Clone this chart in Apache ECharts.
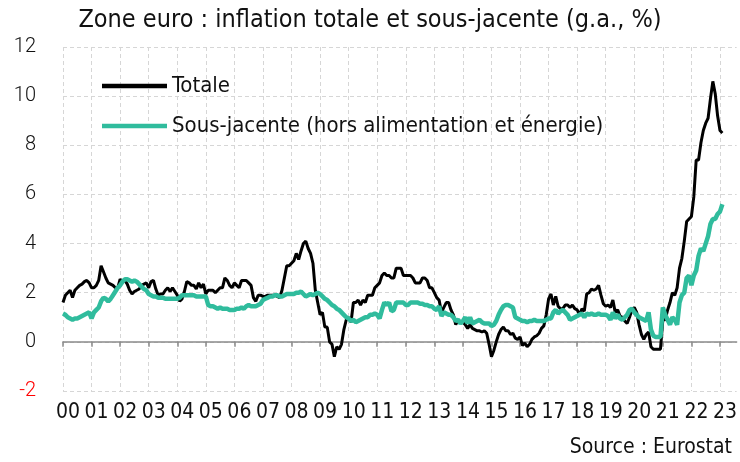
<!DOCTYPE html>
<html>
<head>
<meta charset="utf-8">
<script src="https://cdn.jsdelivr.net/npm/echarts@6/dist/echarts.min.js"></script>
<style>
  html, body { margin: 0; padding: 0; background: #fff; }
  #chart { width: 740px; height: 462px; }
</style>
</head>
<body>
<div id="chart"></div>
<script>
// years shown on the axis (monthly axis runs Jan 2000 -> Aug 2023)
const yearLabels = ['00', '01', '02', '03', '04', '05', '06', '07', '08', '09', '10', '11',
  '12', '13', '14', '15', '16', '17', '18', '19', '20', '21', '22', '23']
const monthsInLastYear = 8

// inflation totale, g.a. %, Jan 2000 -> Feb 2023
const totale = [
  1.6, 1.9, 2.0, 2.1, 1.8, 2.1, 2.2, 2.3, 2.35, 2.45, 2.5, 2.4, // 2000
  2.2, 2.2, 2.3, 2.5, 3.1, 2.85, 2.6, 2.4, 2.35, 2.3, 2.2, 2.2, // 2001
  2.55, 2.45, 2.5, 2.35, 2.1, 1.95, 2.05, 2.1, 2.15, 2.3, 2.35, 2.4, // 2002
  2.2, 2.45, 2.5, 2.15, 1.9, 1.95, 1.95, 2.1, 2.2, 2.05, 2.2, 2.05, // 2003
  1.9, 1.65, 1.75, 2.05, 2.45, 2.4, 2.3, 2.3, 2.15, 2.4, 2.2, 2.35, // 2004
  1.95, 2.1, 2.1, 2.1, 2.0, 2.1, 2.2, 2.2, 2.6, 2.5, 2.3, 2.2, // 2005
  2.4, 2.3, 2.2, 2.5, 2.5, 2.5, 2.4, 2.3, 1.8, 1.65, 1.9, 1.9, // 2006
  1.85, 1.85, 1.9, 1.9, 1.9, 1.9, 1.85, 1.8, 2.1, 2.6, 3.1, 3.1, // 2007
  3.2, 3.3, 3.6, 3.35, 3.7, 4.0, 4.1, 3.8, 3.6, 3.2, 2.1, 1.6, // 2008
  1.1, 1.2, 0.6, 0.6, 0.0, -0.1, -0.6, -0.2, -0.3, -0.1, 0.5, 0.9, // 2009
  1.0, 0.8, 1.6, 1.6, 1.7, 1.5, 1.7, 1.6, 1.9, 1.9, 1.9, 2.2, // 2010
  2.3, 2.4, 2.7, 2.8, 2.7, 2.7, 2.6, 2.6, 3.0, 3.0, 3.0, 2.7, // 2011
  2.7, 2.7, 2.7, 2.6, 2.4, 2.4, 2.4, 2.6, 2.6, 2.5, 2.2, 2.2, // 2012
  2.0, 1.8, 1.7, 1.2, 1.4, 1.6, 1.6, 1.3, 1.1, 0.7, 0.9, 0.8, // 2013
  0.8, 0.7, 0.55, 0.7, 0.55, 0.5, 0.45, 0.45, 0.4, 0.45, 0.35, -0.1, // 2014
  -0.6, -0.35, 0.0, 0.3, 0.5, 0.6, 0.45, 0.45, 0.3, 0.35, 0.15, 0.1, // 2015
  0.2, -0.15, -0.05, -0.2, -0.1, 0.1, 0.2, 0.25, 0.35, 0.55, 0.65, 1.1, // 2016
  1.75, 1.95, 1.5, 1.85, 1.45, 1.35, 1.35, 1.5, 1.5, 1.4, 1.5, 1.35, // 2017
  1.3, 1.1, 1.35, 1.25, 1.95, 2.0, 2.15, 2.1, 2.15, 2.3, 1.9, 1.55, // 2018
  1.45, 1.5, 1.4, 1.7, 1.2, 1.3, 1.05, 1.0, 0.85, 0.75, 1.0, 1.3, // 2019
  1.4, 1.2, 0.7, 0.3, 0.1, 0.3, 0.4, -0.2, -0.3, -0.3, -0.3, -0.3, // 2020
  0.9, 0.9, 1.3, 1.6, 2.0, 1.9, 2.2, 3.0, 3.4, 4.1, 4.9, 5.0, // 2021
  5.1, 5.9, 7.4, 7.4, 8.1, 8.6, 8.9, 9.1, 9.9, 10.6, 10.1, 9.2, // 2022
  8.6, 8.5 // 2023
]

// sous-jacente (hors alimentation et energie), g.a. %
const sousJacente = [
  1.15, 1.1, 1.0, 0.95, 0.9, 0.95, 0.95, 1.0, 1.05, 1.1, 1.15, 1.2, // 2000
  0.95, 1.2, 1.3, 1.4, 1.65, 1.8, 1.75, 1.65, 1.75, 1.9, 2.05, 2.2, // 2001
  2.3, 2.45, 2.55, 2.55, 2.5, 2.45, 2.5, 2.45, 2.35, 2.25, 2.15, 2.1, // 2002
  1.95, 1.9, 1.85, 1.85, 1.8, 1.8, 1.8, 1.75, 1.75, 1.75, 1.75, 1.75, // 2003
  1.75, 1.8, 1.9, 1.9, 1.9, 1.9, 1.9, 1.9, 1.85, 1.85, 1.85, 1.85, // 2004
  1.85, 1.5, 1.45, 1.45, 1.4, 1.35, 1.4, 1.35, 1.35, 1.35, 1.3, 1.3, // 2005
  1.3, 1.35, 1.35, 1.4, 1.35, 1.45, 1.5, 1.45, 1.45, 1.45, 1.5, 1.55, // 2006
  1.7, 1.75, 1.8, 1.85, 1.85, 1.9, 1.9, 1.85, 1.85, 1.9, 1.95, 1.95, // 2007
  1.95, 1.95, 2.0, 2.0, 2.05, 1.95, 1.85, 1.9, 1.95, 1.9, 1.95, 2.0, // 2008
  1.95, 1.85, 1.75, 1.7, 1.6, 1.5, 1.45, 1.35, 1.3, 1.2, 1.1, 1.0, // 2009
  0.95, 0.85, 0.9, 0.8, 0.85, 0.9, 0.95, 1.0, 1.0, 1.1, 1.1, 1.15, // 2010
  1.1, 0.95, 1.3, 1.6, 1.5, 1.6, 1.25, 1.3, 1.6, 1.6, 1.6, 1.6, // 2011
  1.5, 1.5, 1.6, 1.6, 1.6, 1.6, 1.55, 1.55, 1.5, 1.5, 1.45, 1.45, // 2012
  1.35, 1.3, 1.45, 1.05, 1.2, 1.15, 1.1, 1.1, 1.0, 0.85, 0.9, 0.75, // 2013
  0.85, 1.0, 0.75, 1.0, 0.75, 0.8, 0.85, 0.9, 0.8, 0.75, 0.75, 0.75, // 2014
  0.65, 0.7, 0.85, 1.1, 1.3, 1.45, 1.5, 1.5, 1.45, 1.4, 1.0, 0.95, // 2015
  0.9, 0.85, 0.85, 0.8, 0.85, 0.85, 0.9, 0.85, 0.85, 0.85, 0.85, 0.9, // 2016
  0.95, 0.95, 1.2, 1.3, 1.15, 1.25, 1.3, 1.2, 1.1, 0.9, 0.95, 1.0, // 2017
  1.05, 1.1, 1.15, 1.0, 1.15, 1.1, 1.15, 1.1, 1.1, 1.15, 1.1, 1.1, // 2018
  1.1, 1.05, 0.9, 1.2, 0.95, 1.1, 0.95, 0.9, 1.0, 1.1, 1.3, 1.35, // 2019
  1.2, 1.1, 1.0, 0.95, 0.9, 0.85, 1.2, 0.5, 0.25, 0.2, 0.2, 0.2, // 2020
  1.4, 1.1, 0.9, 0.7, 1.0, 0.9, 0.7, 1.6, 1.9, 2.0, 2.6, 2.7, // 2021
  2.3, 2.7, 2.9, 3.5, 3.8, 3.7, 4.0, 4.3, 4.8, 5.0, 5.0, 5.2, // 2022
  5.3, 5.6 // 2023
]

const months = []
yearLabels.forEach((y, i) => {
  const n = i === yearLabels.length - 1 ? monthsInLastYear : 12
  for (let m = 1; m <= n; m++) months.push(y + '-' + m)
})

const narrow = '"DejaVu Sans Condensed", "Liberation Sans Narrow", sans-serif'
const gridLine = { color: '#d6d6d6', width: 1, type: [4, 3] }
const yearStart = (i) => i % 12 === 0

const option = {
  animation: false,
  title: [
    {
      text: 'Zone euro : inflation totale et sous-jacente (g.a., %)',
      left: 'center',
      top: 3,
      textStyle: { fontFamily: narrow, fontSize: 25, fontWeight: 'normal', color: '#111' },
    },
    {
      text: 'Source : Eurostat',
      right: 3,
      top: 432,
      textStyle: { fontFamily: narrow, fontSize: 21, fontWeight: 'normal', color: '#111' },
    },
  ],
  legend: {
    orient: 'vertical',
    left: 97,
    top: 69,
    icon: 'rect',
    itemWidth: 65,
    itemHeight: 4.5,
    itemGap: 16,
    textStyle: { fontFamily: narrow, fontSize: 22, lineHeight: 24, color: '#111' },
    data: ['Totale', 'Sous-jacente (hors alimentation et énergie)'],
  },
  grid: { left: 63, right: 2, top: 47, bottom: 71 },
  xAxis: [
    {
      type: 'category',
      data: months,
      boundaryGap: false,
      axisLine: { onZero: true, lineStyle: { color: '#8a8a8a', width: 1.5 } },
      axisTick: { show: true, interval: yearStart, length: 5, lineStyle: { color: '#8a8a8a', width: 1.5 } },
      axisLabel: { show: false },
      splitLine: { show: true, interval: yearStart, lineStyle: gridLine },
    },
    {
      type: 'category',
      position: 'bottom',
      data: months,
      boundaryGap: false,
      axisLine: { show: false, onZero: false },
      axisTick: { show: false },
      splitLine: { show: false },
      axisLabel: {
        interval: yearStart,
        formatter: (v) => v.split('-')[0],
        fontFamily: narrow,
        fontSize: 21,
        color: '#111',
        margin: 11,
        padding: [0, 0, 0, 10],
      },
    },
  ],
  yAxis: {
    type: 'value',
    min: -2,
    max: 12,
    interval: 2,
    axisLine: { show: false },
    axisTick: { show: false },
    axisLabel: {
      fontFamily: 'Roboto, "Liberation Sans", sans-serif',
      fontWeight: 300,
      fontSize: 20,
      margin: 27,
      color: (v) => (Number(v) < 0 ? '#ff0000' : '#111'),
    },
    splitLine: { show: true, lineStyle: gridLine },
  },
  series: [
    {
      name: 'Totale',
      type: 'line',
      data: totale,
      symbol: 'none',
      lineStyle: { color: '#000', width: 3 },
      itemStyle: { color: '#000' },
    },
    {
      name: 'Sous-jacente (hors alimentation et énergie)',
      type: 'line',
      data: sousJacente,
      symbol: 'none',
      lineStyle: { color: '#30bc9d', width: 4.5 },
      itemStyle: { color: '#30bc9d' },
    },
  ],
}

const chart = echarts.init(document.getElementById('chart'))
chart.setOption(option)
</script>
</body>
</html>
